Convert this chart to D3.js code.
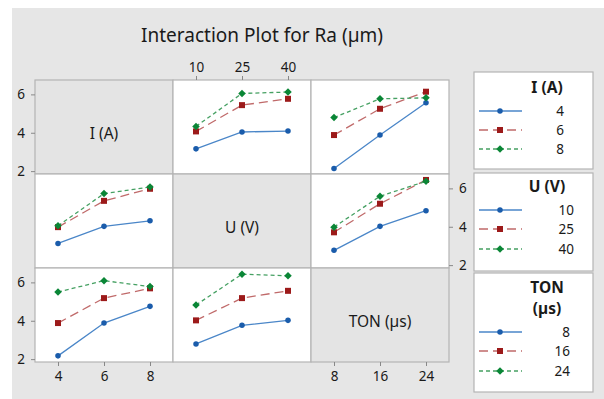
<!doctype html>
<html>
<head>
<meta charset="utf-8">
<title>Interaction Plot for Ra</title>
<script src="https://cdn.jsdelivr.net/npm/d3@7/dist/d3.min.js"></script>
<style>
body { margin:0; background:#fff; }
svg text { font-family: 'Noto Sans', 'Open Sans', sans-serif; fill:#1a1a1a; }
</style>
</head>
<body>
<div id="chart"></div>
<script>
// factors and levels
var factors = ["I (A)", "U (V)", "TON (µs)"];
var levels = [["4","6","8"], ["10","25","40"], ["8","16","24"]];
var yTicks = [2, 4, 6];

// mean Ra, one row per level of the line factor, one value per level of the x factor
var iByU   = [[3.16,4.04,4.09],[4.07,5.44,5.77],[4.33,6.05,6.12]];
var iByTon = [[2.14,3.88,5.56],[3.88,5.25,6.14],[4.79,5.77,5.82]];
var uByI   = [[3.13,4.02,4.31],[3.98,5.35,5.98],[4.05,5.73,6.07]];
var uByTon = [[2.77,4.02,4.84],[3.71,5.20,6.44],[3.98,5.59,6.37]];
var tonByI = [[2.17,3.88,4.75],[3.88,5.18,5.69],[5.50,6.09,5.78]];
var tonByU = [[2.79,3.76,4.02],[4.02,5.18,5.56],[4.82,6.43,6.34]];

var panels = [
  {row:0, col:1, data:iByU},
  {row:0, col:2, data:iByTon},
  {row:1, col:0, data:uByI},
  {row:1, col:2, data:uByTon},
  {row:2, col:0, data:tonByI},
  {row:2, col:1, data:tonByU}
];

var width = 604, height = 399;
var x0 = 35, y0 = 80, pw = 138, ph = 94;

// diamond = square turned 45 degrees (d3's diamond is too tall)
var styles = [
  {mark:"#1a5cab", line:"#4a86c8", dash:null,  sym:d3.symbolCircle, size:24, rot:0},
  {mark:"#9c1a1a", line:"#c06a6a", dash:"9,5", sym:d3.symbolSquare, size:36, rot:0},
  {mark:"#0a8636", line:"#45a062", dash:"4,3", sym:d3.symbolSquare, size:28, rot:45}
];

var svg = d3.select("#chart").append("svg")
  .attr("width", width).attr("height", height);

svg.append("rect").attr("x",12).attr("y",8).attr("width",width-12).attr("height",height-8)
  .attr("fill","#e6e6e6");

svg.append("text").attr("x",262).attr("y",42).attr("text-anchor","middle")
  .style("font-size","19px").text("Interaction Plot for Ra (µm)");

var y = d3.scaleLinear().domain([1.85, 6.75]).range([ph, 0]);

// panels
for (var r = 0; r < 3; r++) {
  for (var c = 0; c < 3; c++) {
    var g = svg.append("g").attr("transform","translate("+(x0+c*pw)+","+(y0+r*ph)+")");
    g.append("rect").attr("width",pw).attr("height",ph)
      .attr("fill", r==c ? "#e4e4e4" : "#fff")
      .attr("stroke","#b4b4b4").attr("stroke-width",1.2);
    if (r == c) {
      g.append("text").attr("x",pw/2).attr("y",ph/2+12).attr("text-anchor","middle")
        .style("font-size","15.5px").text(factors[r]);
    }
  }
}

function marker(s){
  return function(sel){
    sel.attr("d", d3.symbol().type(s.sym).size(s.size)).attr("fill", s.mark);
  };
}

panels.forEach(function(p){
  var g = svg.append("g").attr("transform","translate("+(x0+p.col*pw)+","+(y0+p.row*ph)+")");
  var x = d3.scalePoint().domain(levels[p.col]).range([0,pw]).padding(0.5);
  var line = d3.line().x(function(d,i){ return x(levels[p.col][i]); }).y(function(d){ return y(d); });
  p.data.forEach(function(vals, k){
    var s = styles[k];
    g.append("path").attr("d", line(vals)).attr("fill","none")
      .attr("stroke", s.line).attr("stroke-width",1.3)
      .attr("stroke-dasharray", s.dash);
    g.selectAll(".m"+k).data(vals).enter().append("path")
      .attr("transform", function(d,i){ return "translate("+x(levels[p.col][i])+","+y(d)+") rotate("+s.rot+")"; })
      .call(marker(s));
  });
});

// axes
function styleAxis(sel){
  sel.select(".domain").remove();
  sel.selectAll(".tick line").attr("stroke","#888");
  sel.selectAll(".tick text").style("font-size","13.5px").attr("fill","#1a1a1a");
}
function xs(col){ return d3.scalePoint().domain(levels[col]).range([0,pw]).padding(0.5); }
var fmt = d3.format("d");

svg.append("g").attr("transform","translate("+x0+","+y0+")")
  .call(d3.axisLeft(y).tickValues(yTicks).tickFormat(fmt).tickSize(4).tickPadding(6)).call(styleAxis);
svg.append("g").attr("transform","translate("+x0+","+(y0+2*ph)+")")
  .call(d3.axisLeft(y).tickValues(yTicks).tickFormat(fmt).tickSize(4).tickPadding(6)).call(styleAxis);
svg.append("g").attr("transform","translate("+(x0+3*pw)+","+(y0+ph)+")")
  .call(d3.axisRight(y).tickValues(yTicks).tickFormat(fmt).tickSize(4).tickPadding(6)).call(styleAxis);
svg.append("g").attr("transform","translate("+(x0+pw)+","+y0+")")
  .call(d3.axisTop(xs(1)).tickSize(4).tickPadding(4)).call(styleAxis);
svg.append("g").attr("transform","translate("+x0+","+(y0+3*ph)+")")
  .call(d3.axisBottom(xs(0)).tickSize(4).tickPadding(5)).call(styleAxis);
svg.append("g").attr("transform","translate("+(x0+2*pw)+","+(y0+3*ph)+")")
  .call(d3.axisBottom(xs(2)).tickSize(4).tickPadding(5)).call(styleAxis);

// legends
var legends = [
  {y:72,  h:97,  title:["I (A)"],        ty:[93],       ey:[111,130,149], vx:564},
  {y:173, h:98,  title:["U (V)"],        ty:[192],      ey:[210,229,249], vx:574},
  {y:273, h:119, title:["TON","(µs)"],   ty:[293,314],  ey:[332,351,371], vx:570}
];
legends.forEach(function(L, j){
  var g = svg.append("g");
  g.append("rect").attr("x",474).attr("y",L.y).attr("width",119).attr("height",L.h)
    .attr("fill","#fff").attr("stroke","#b4b4b4").attr("stroke-width",1.2);
  L.title.forEach(function(t,i){
    g.append("text").attr("x",547).attr("y",L.ty[i]).attr("text-anchor","middle")
      .style("font-size","15.5px").style("font-weight","bold").text(t);
  });
  levels[j].forEach(function(lv,k){
    var s = styles[k];
    g.append("line").attr("x1",479).attr("x2",522).attr("y1",L.ey[k]).attr("y2",L.ey[k])
      .attr("stroke",s.line).attr("stroke-width",1.3).attr("stroke-dasharray",s.dash);
    g.append("path").attr("transform","translate(500,"+L.ey[k]+") rotate("+s.rot+")")
      .call(marker(s));
    g.append("text").attr("x",L.vx).attr("y",L.ey[k]+5).attr("text-anchor","end")
      .style("font-size","13.5px").text(lv);
  });
});
</script>
</body>
</html>
